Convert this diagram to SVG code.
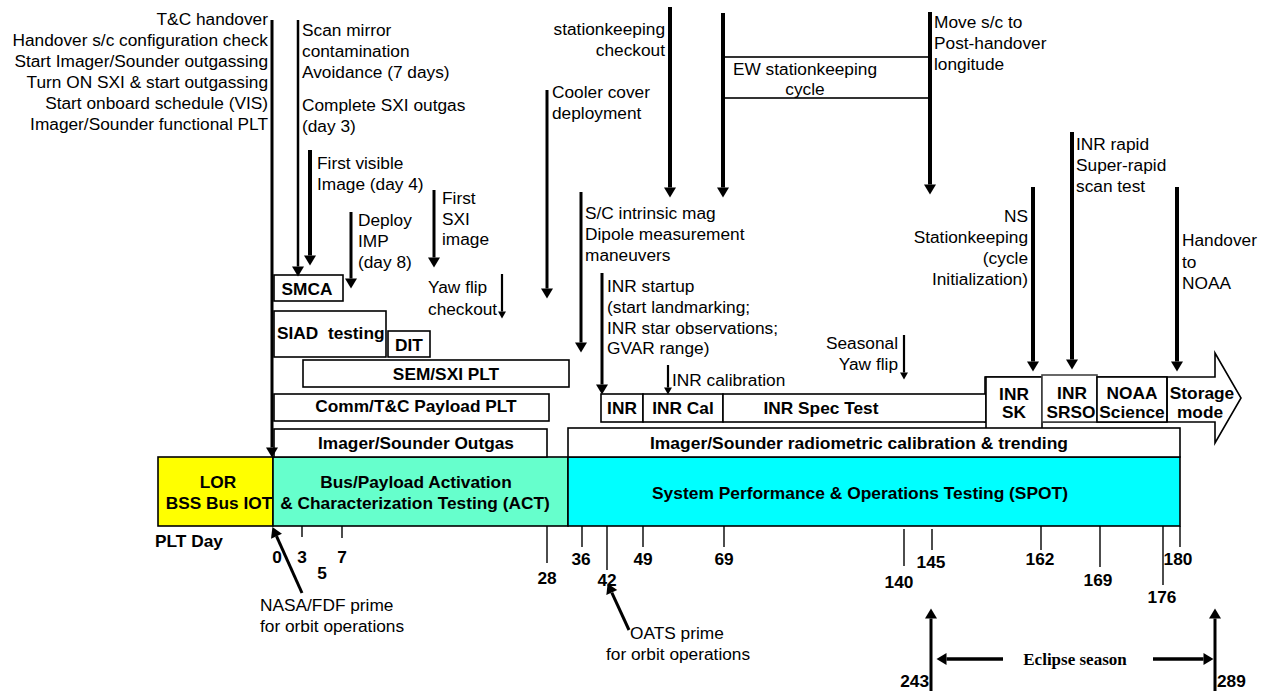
<svg xmlns="http://www.w3.org/2000/svg" width="1265" height="691" viewBox="0 0 1265 691">
<style>
.t{font-family:"Liberation Sans",Arial,sans-serif;font-size:17.3px;fill:#000}
.b{font-weight:bold}
.m{text-anchor:middle}
.e{text-anchor:end}
.ser{font-family:"Liberation Serif","Times New Roman",serif;font-weight:bold;font-size:17px}
.box{fill:#fff;stroke:#000;stroke-width:1.6}
.a{fill:none;stroke:#000;marker-end:url(#ah)}
.as{fill:none;stroke:#000;stroke-width:2.2;marker-end:url(#ahs)}
.tick{stroke:#000;stroke-width:1.4}
</style>
<defs>
<marker id="ah" markerUnits="userSpaceOnUse" markerWidth="12" markerHeight="12" refX="0" refY="6" orient="auto" overflow="visible"><path d="M0,0 L10,6 L0,12 z" fill="#000"/></marker>
<marker id="ahs" markerUnits="userSpaceOnUse" markerWidth="8" markerHeight="8" refX="0" refY="4" orient="auto" overflow="visible"><path d="M0,0 L7,4 L0,8 z" fill="#000"/></marker>
</defs>
<rect width="1265" height="691" fill="#fff"/>

<!-- main phase bars -->
<g id="lor"><rect x="158" y="457" width="115" height="69" fill="#FFFF00" stroke="#000" stroke-width="1.6"/>
<text class="t b m" x="218" y="488">LOR</text><text class="t b m" x="219" y="509">BSS Bus IOT</text></g>
<g id="act"><rect x="273" y="457" width="295" height="69" fill="#66FFCC" stroke="#000" stroke-width="1.6"/>
<text class="t b m" x="416" y="488">Bus/Payload Activation</text><text class="t b m" x="415" y="509">&amp; Characterization Testing (ACT)</text></g>
<g id="spot"><rect x="568" y="457" width="612" height="69" fill="#00FFFF" stroke="#000" stroke-width="1.6"/>
<text class="t b m" x="860" y="499" textLength="416" lengthAdjust="spacingAndGlyphs">System Performance &amp; Operations Testing (SPOT)</text></g>

<!-- INR row / big arrow -->
<g id="bigarrow"><path class="box" d="M985,377 H1215 V353 L1241,398 L1215,443 V422 H985 Z"/></g>
<g id="inr"><rect class="box" x="601" y="394" width="42" height="28"/><text class="t b m" x="622" y="414">INR</text></g>
<g id="inrcal"><rect class="box" x="643" y="394" width="80" height="28"/><text class="t b m" x="683" y="414">INR Cal</text></g>
<g id="inrspec"><rect class="box" x="723" y="394" width="263" height="28"/><text class="t b m" x="821" y="414">INR Spec Test</text></g>
<g id="inrsk"><rect class="box" x="986" y="377" width="56" height="58"/><text class="t b m" x="1014" y="400">INR</text><text class="t b m" x="1014" y="418">SK</text></g>
<g id="inrsrso"><rect x="1042" y="375" width="55" height="47" fill="#fff" stroke="#444" stroke-width="1.6"/><text class="t b m" x="1072" y="399">INR</text><text class="t b m" x="1071" y="418">SRSO</text></g>
<g id="noaasci"><rect class="box" x="1097" y="377" width="70" height="45"/><text class="t b m" x="1132" y="399">NOAA</text><text class="t b m" x="1132" y="418">Science</text></g>
<g id="storage"><line x1="1167" y1="377" x2="1167" y2="422" stroke="#000" stroke-width="1.6"/><text class="t b m" x="1202" y="399">Storage</text><text class="t b m" x="1200" y="418">mode</text></g>

<!-- activity boxes -->
<g id="smca"><rect class="box" x="274" y="275" width="69" height="26"/><text class="t b m" x="307" y="295">SMCA</text></g>
<g id="siad"><rect class="box" x="274" y="311" width="112" height="46"/><text class="t b" x="277" y="339" xml:space="preserve">SIAD  testing</text></g>
<g id="dit"><rect class="box" x="388" y="331" width="42" height="26"/><text class="t b m" x="409" y="351">DIT</text></g>
<g id="semsxi"><rect class="box" x="303" y="360" width="266" height="27"/><text class="t b m" x="446" y="380">SEM/SXI PLT</text></g>
<g id="comm"><rect class="box" x="274" y="394" width="275" height="27"/><text class="t b m" x="416" y="412">Comm/T&amp;C Payload PLT</text></g>
<g id="outgas"><rect class="box" x="274" y="429" width="273" height="28"/><text class="t b m" x="416" y="449">Imager/Sounder Outgas</text></g>
<g id="radcal"><rect class="box" x="568" y="428" width="612" height="29"/><text class="t b m" x="859" y="449" textLength="418" lengthAdjust="spacingAndGlyphs">Imager/Sounder radiometric calibration &amp; trending</text></g>

<!-- EW box -->
<g id="ewbox"><rect class="box" x="723" y="57" width="206" height="41"/><text class="t m" x="805" y="75">EW stationkeeping</text><text class="t m" x="805" y="95">cycle</text></g>

<!-- event labels -->
<g id="left-events">
<text class="t e" x="268" y="25">T&amp;C handover</text>
<text class="t e" x="268" y="46">Handover s/c configuration check</text>
<text class="t e" x="268" y="67">Start Imager/Sounder outgassing</text>
<text class="t e" x="268" y="88">Turn ON SXI &amp; start outgassing</text>
<text class="t e" x="268" y="109">Start onboard schedule (VIS)</text>
<text class="t e" x="268" y="130">Imager/Sounder functional PLT</text>
</g>
<g id="scan-mirror">
<text class="t" x="302" y="36">Scan mirror</text>
<text class="t" x="302" y="57">contamination</text>
<text class="t" x="302" y="78">Avoidance (7 days)</text>
<text class="t" x="302" y="111">Complete SXI outgas</text>
<text class="t" x="302" y="132">(day 3)</text>
</g>
<g id="first-visible"><text class="t" x="317" y="169">First visible</text><text class="t" x="317" y="190">Image (day 4)</text></g>
<g id="deploy-imp"><text class="t" x="358" y="226">Deploy</text><text class="t" x="358" y="247">IMP</text><text class="t" x="358" y="268">(day 8)</text></g>
<g id="first-sxi"><text class="t" x="442" y="204">First</text><text class="t" x="442" y="225">SXI</text><text class="t" x="442" y="245">image</text></g>
<g id="yaw-checkout"><text class="t" x="428" y="293">Yaw flip</text><text class="t" x="428" y="315">checkout</text></g>
<g id="cooler"><text class="t" x="552" y="98">Cooler cover</text><text class="t" x="552" y="119">deployment</text></g>
<g id="sk-checkout"><text class="t e" x="665" y="35">stationkeeping</text><text class="t e" x="665" y="56">checkout</text></g>
<g id="move-sc"><text class="t" x="934" y="28">Move s/c to</text><text class="t" x="934" y="49">Post-handover</text><text class="t" x="934" y="70">longitude</text></g>
<g id="sc-mag"><text class="t" x="585" y="219">S/C intrinsic mag</text><text class="t" x="585" y="240">Dipole measurement</text><text class="t" x="585" y="261">maneuvers</text></g>
<g id="inr-startup"><text class="t" x="607" y="292">INR startup</text><text class="t" x="607" y="313">(start landmarking;</text><text class="t" x="607" y="334">INR star observations;</text><text class="t" x="607" y="354">GVAR range)</text></g>
<g id="inr-calibration"><text class="t" x="672" y="386">INR calibration</text></g>
<g id="seasonal"><text class="t e" x="898" y="349">Seasonal</text><text class="t e" x="898" y="370">Yaw flip</text></g>
<g id="ns-sk"><text class="t e" x="1028" y="222">NS</text><text class="t e" x="1028" y="243">Stationkeeping</text><text class="t e" x="1028" y="264">(cycle</text><text class="t e" x="1028" y="285">Initialization)</text></g>
<g id="inr-rapid"><text class="t" x="1076" y="150">INR rapid</text><text class="t" x="1076" y="171">Super-rapid</text><text class="t" x="1076" y="192">scan test</text></g>
<g id="handover-noaa"><text class="t" x="1182" y="246">Handover</text><text class="t" x="1182" y="268">to</text><text class="t" x="1182" y="289">NOAA</text></g>
<g id="nasa"><text class="t" x="260" y="611">NASA/FDF prime</text><text class="t" x="260" y="632">for orbit operations</text></g>
<g id="oats"><text class="t" x="630" y="639">OATS prime</text><text class="t" x="606" y="660">for orbit operations</text></g>
<g id="eclipse"><text class="ser m" x="1075" y="665">Eclipse season</text></g>

<!-- day scale -->
<g id="day-scale">
<text class="t b" x="155" y="547">PLT Day</text>
<line class="tick" x1="302" y1="526" x2="302" y2="537"/>
<line class="tick" x1="342" y1="526" x2="342" y2="538"/>
<line class="tick" x1="547" y1="526" x2="547" y2="563"/>
<line class="tick" x1="582" y1="526" x2="582" y2="547"/>
<line class="tick" x1="607" y1="526" x2="607" y2="570"/>
<line class="tick" x1="643" y1="526" x2="643" y2="547"/>
<line class="tick" x1="724" y1="526" x2="724" y2="547"/>
<line class="tick" x1="904" y1="529" x2="904" y2="566"/>
<line class="tick" x1="932" y1="529" x2="932" y2="550"/>
<line class="tick" x1="1041" y1="526" x2="1041" y2="550"/>
<line class="tick" x1="1100" y1="526" x2="1100" y2="567"/>
<line class="tick" x1="1163" y1="526" x2="1163" y2="585"/>
<line class="tick" x1="1180" y1="526" x2="1180" y2="547"/>
<text class="t b m" x="277" y="563">0</text>
<text class="t b m" x="302" y="563">3</text>
<text class="t b m" x="322" y="579">5</text>
<text class="t b m" x="342" y="563">7</text>
<text class="t b m" x="547" y="584">28</text>
<text class="t b m" x="581" y="565">36</text>
<text class="t b m" x="607" y="586">42</text>
<text class="t b m" x="643" y="565">49</text>
<text class="t b m" x="724" y="565">69</text>
<text class="t b m" x="899" y="588">140</text>
<text class="t b m" x="931" y="568">145</text>
<text class="t b m" x="1040" y="565">162</text>
<text class="t b m" x="1098" y="586">169</text>
<text class="t b m" x="1162" y="603">176</text>
<text class="t b m" x="1178" y="565">180</text>
<text class="t b e" x="929" y="687">243</text>
<text class="t b" x="1217" y="687">289</text>
</g>

<!-- connectors -->
<g id="connectors">
<path class="a" stroke-width="3" d="M272,20 V447.5"/>
<path class="a" stroke-width="2.5" d="M298,20 V266.5"/>
<path class="a" stroke-width="4" d="M310,150 V255.5"/>
<path class="a" stroke-width="3" d="M351,212 V278.5"/>
<path class="a" stroke-width="3" d="M434,190 V257.5"/>
<path class="as" d="M502,274 V311.5"/>
<path class="a" stroke-width="3" d="M547,90 V288.5"/>
<path class="a" stroke-width="4" d="M670,7 V187.5"/>
<path class="a" stroke-width="4" d="M723,13 V187.5"/>
<path class="a" stroke-width="4" d="M930,12 V184.5"/>
<path class="a" stroke-width="3" d="M581,192 V342.5"/>
<path class="a" stroke-width="3" d="M602,273 V384.5"/>
<path class="as" d="M668,365 V387.5"/>
<path class="as" d="M904,335 V372.5"/>
<path class="a" stroke-width="4" d="M1033,187 V361.5"/>
<path class="a" stroke-width="4" d="M1072,132 V359.5"/>
<path class="a" stroke-width="4" d="M1177,187 V361.5"/>
<path class="a" stroke-width="3" d="M302,593 L276.5,536.2"/>
<path class="a" stroke-width="3" d="M629,630 L611.8,592.6"/>
<path class="a" stroke-width="3" d="M931,691 V618.5"/>
<path class="a" stroke-width="3" d="M1215,691 V618.5"/>
<path class="a" stroke-width="3.5" d="M1003,659 H946.5"/>
<path class="a" stroke-width="3.5" d="M1153,659 H1203.5"/>
</g>
</svg>
